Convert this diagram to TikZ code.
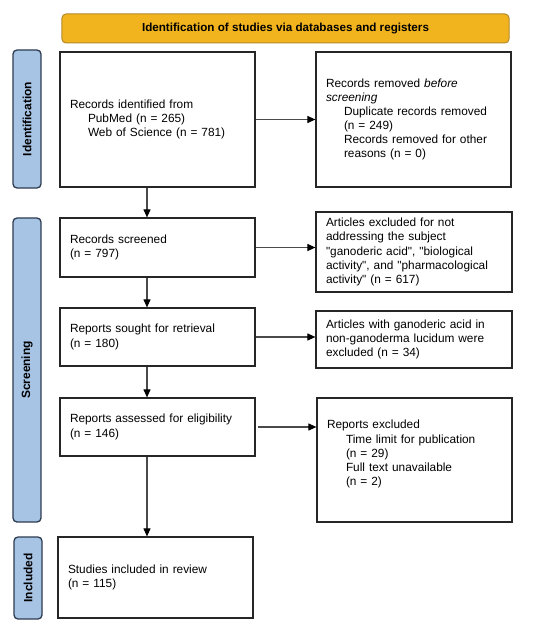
\documentclass[tikz,border=0pt]{standalone}
\usepackage{fontspec}
\setmainfont{Liberation Sans}
\usetikzlibrary{arrows.meta}
\definecolor{hdrfill}{HTML}{F2B41E}
\definecolor{hdrline}{HTML}{B38A2C}
\definecolor{sidefill}{HTML}{A8C4E5}
\definecolor{sideline}{HTML}{2E3C50}
\definecolor{boxline}{HTML}{262626}
\definecolor{arrline}{HTML}{4A4A4A}
\newcommand{\dq}{\textquotedbl}
\tikzset{
  txt/.style={font=\fontsize{11.9pt}{14.2pt}\selectfont},
  box/.style={txt, draw=boxline, line width=1.2bp, fill=white, rectangle,
    inner xsep=10bp, inner ysep=0bp, align=left, minimum width=#1, text width=#1-20bp},
  hdr/.style={txt, font=\fontsize{11.7pt}{14pt}\selectfont\bfseries, draw=hdrline, line width=1bp,
    fill=hdrfill, rounded corners=4bp, minimum width=447bp, minimum height=29bp, inner sep=0pt},
  side/.style={font=\fontsize{12pt}{14pt}\selectfont\bfseries, draw=sideline, line width=1.3bp,
    fill=sidefill, rounded corners=4bp, rotate=90, minimum height=28bp, inner sep=0pt},
  arr/.style={draw=arrline, line width=1.1bp, -{Triangle[length=8bp,width=7bp,color=black]}},
}
\begin{document}
\begin{tikzpicture}[x=1bp,y=-1bp]
\useasboundingbox[fill=white] (0,0) rectangle (550,634);

\node[hdr] (hdr) at (285.5,28.5) {Identification of studies via databases and registers};

\node[side, minimum width=138bp] (idl) at (27,119) {Identification};
\node[side, minimum width=304bp] (scl) at (27,370) {Screening};
\node[side, minimum width=82bp] (inl) at (28,578) {Included};

\node[box=195bp, minimum height=135bp] (b1) at (157.5,119.5)
  {Records identified from\\
   \hspace*{18bp}PubMed (n = 265)\\
   \hspace*{18bp}Web of Science (n = 781)};
\node[box=195bp, minimum height=135bp] (b2) at (413.5,119.5)
  {Records removed \textit{before}\\
   \textit{screening}\\
   \hspace*{18bp}Duplicate records removed\\
   \hspace*{18bp}(n = 249)\\
   \hspace*{18bp}Records removed for other\\
   \hspace*{18bp}reasons (n = 0)};
\node[box=195bp, minimum height=59bp] (b3) at (157.5,247.5)
  {Records screened\\(n = 797)};
\node[box=196bp, minimum height=80bp] (b4) at (414,252)
  {Articles excluded for not\\
   addressing the subject\\
   \dq ganoderic acid\dq, \dq biological\\
   activity\dq, and \dq pharmacological\\
   activity\dq\ (n = 617)};
\node[box=195bp, minimum height=58bp] (b5) at (157.5,337)
  {Reports sought for retrieval\\(n = 180)};
\node[box=196bp, minimum height=57bp] (b6) at (414,339.5)
  {Articles with ganoderic acid in\\
   non-ganoderma lucidum were\\
   excluded (n = 34)};
\node[box=195bp, minimum height=58bp] (b7) at (157.5,427)
  {Reports assessed for eligibility\\(n = 146)};
\node[box=195bp, minimum height=124bp] (b8) at (414.5,460)
  {Reports excluded\\
   \hspace*{19bp}Time limit for publication\\
   \hspace*{19bp}(n = 29)\\
   \hspace*{19bp}Full text unavailable\\
   \hspace*{19bp}(n = 2)\\
   ~};
\node[box=195bp, minimum height=81bp] (b9) at (155.5,577.5)
  {Studies included in review\\(n = 115)};

\coordinate (vx) at (147,0);

\draw[arr] (b1.south -| vx) -- (b3.north -| vx);
\draw[arr] (b3.south -| vx) -- (b5.north -| vx);
\draw[arr] (b5.south -| vx) -- (b7.north -| vx);
\draw[arr] (b7.south -| vx) -- (b9.north -| vx);

\draw[arr] (b1.east) -- (b1.east -| b2.west);
\draw[arr] (b3.east) -- (b3.east -| b4.west);
\draw[arr] (b5.east) -- (b5.east -| b6.west);
\draw[arr, shorten <=2.5bp] (b7.east) -- (b7.east -| b8.west);
\end{tikzpicture}
\end{document}
